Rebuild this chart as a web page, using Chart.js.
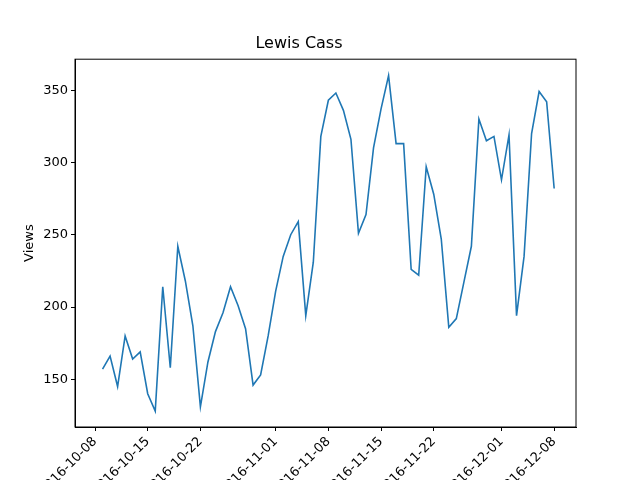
<!DOCTYPE html>
<html><head><meta charset="utf-8">
<script src="https://cdn.jsdelivr.net/npm/chart.js@4"></script>
<style>html,body{margin:0;padding:0;background:#fff}#w{width:640px;height:480px}</style>
</head><body><div id="w"><canvas id="c" width="640" height="480"></canvas></div>
<script>
const startDate = "2016-10-09";
const views = [157,166,145,180,164,169,140,128,214,158,242,218,187,131,162,183,196,214,201,185,146,153,180,
211,235,250,259,194,231,318,343,348,336,316,251,264,310,337,360,313,313,226,222,297,278,247,186,192,217,242,330,315,318,
288,319,194,235,320,349,342,282];
const tickLabels = ["2016-10-08","2016-10-15","2016-10-22","2016-11-01","2016-11-08","2016-11-15","2016-11-22","2016-12-01","2016-12-08"];
const yTicks = [150,200,250,300,350];
const tickDaysUsed = [0,7,14,24,31,38,45,54,61];
const pts = views.map((v,i)=>({x:i+1,y:v}));
const frame = {id:'frame',afterDraw(c){const a=c.chartArea,x=c.ctx;x.save();x.strokeStyle='#000';x.lineWidth=1;x.strokeRect(a.left,a.top,a.right-a.left,a.bottom-a.top);x.restore();}};
const font={family:'DejaVu Sans',size:13};
new Chart(document.getElementById('c'),{
type:'line',
data:{datasets:[{data:pts,borderColor:'#1f77b4',borderWidth:1.6,pointRadius:0,tension:0,fill:false}]},
options:{responsive:false,animation:false,
layout:{padding:{left:22,right:64,top:0,bottom:0}},
plugins:{legend:{display:false},tooltip:{enabled:false},
 title:{display:true,text:'Lewis Cass',color:'#000',font:{family:'DejaVu Sans',size:16,weight:'normal'},padding:{top:34,bottom:6}}},
scales:{
 x:{type:'linear',min:-2.66,max:63.9,
  afterBuildTicks(s){s.ticks=tickDaysUsed.map(v=>({value:v}));},
  afterFit(s){s.height=53;},
  ticks:{color:'#000',font,minRotation:45,maxRotation:45,autoSkip:false,callback:(v)=>tickLabels[tickDaysUsed.indexOf(v)]},
  grid:{drawOnChartArea:false,drawTicks:true,tickLength:4,color:'#000'},border:{color:'#000'}},
 y:{min:117,max:371.4,
  afterBuildTicks(s){s.ticks=yTicks.map(v=>({value:v}));},
  afterFit(s){s.width=53;},
  title:{display:true,text:'Views',color:'#000',font,padding:0},
  ticks:{color:'#000',font},
  grid:{drawOnChartArea:false,drawTicks:true,tickLength:4,color:'#000'},border:{color:'#000'}}
}},
plugins:[frame]});
</script></body></html>
